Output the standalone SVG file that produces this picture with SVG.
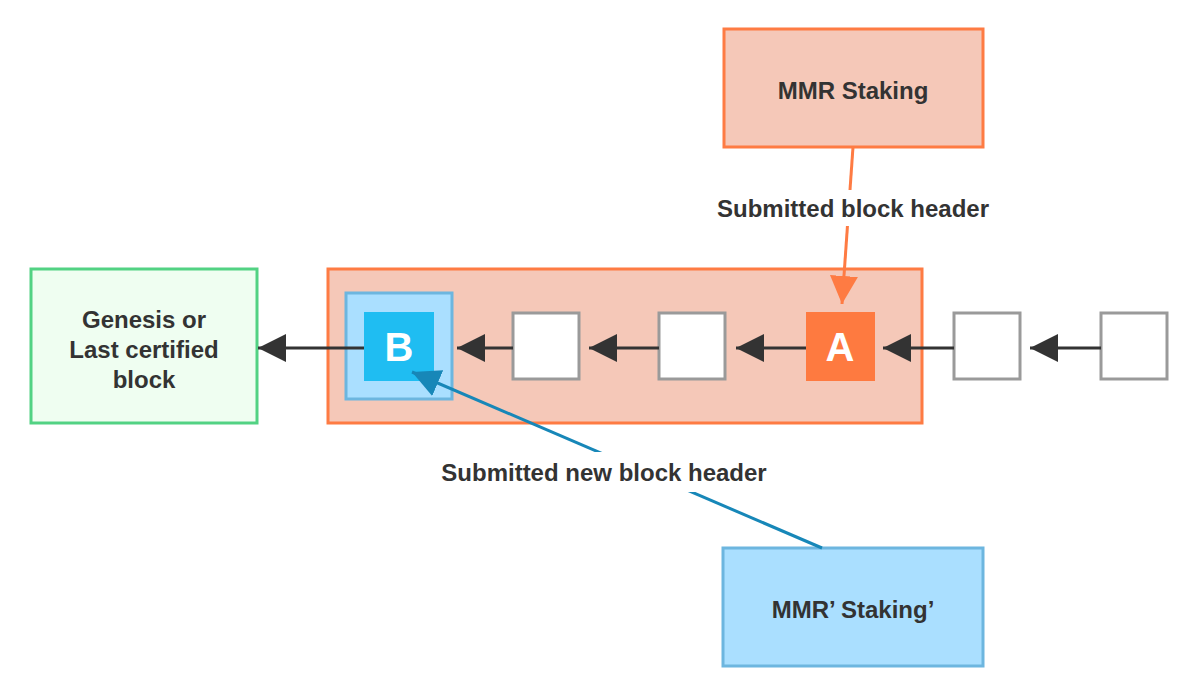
<svg xmlns="http://www.w3.org/2000/svg" width="1200" height="696" viewBox="0 0 1200 696">
<defs>
<style>
.lbl{font-family:"Liberation Sans",Arial,sans-serif;font-weight:bold;font-size:24px;fill:#333;text-anchor:middle;dominant-baseline:central}
.big{font-family:"Liberation Sans",Arial,sans-serif;font-weight:bold;font-size:40px;fill:#fff;text-anchor:middle;dominant-baseline:central}
.blk{fill:#fff;stroke:#9a9a9a;stroke-width:3}
.org{fill:#f5c8b8;stroke:#fe7b43;stroke-width:3}
.blu{fill:#aadfff;stroke:#6db6df;stroke-width:3}
.ln{stroke:#333;stroke-width:3;fill:none}
</style>
<marker id="ah" markerUnits="userSpaceOnUse" markerWidth="28" markerHeight="28" viewBox="0 0 26 26" refX="26" refY="13" orient="auto"><path d="M0,0 L26,13 L0,26 Z" fill="#333"/></marker>
<marker id="ahO" markerUnits="userSpaceOnUse" markerWidth="28" markerHeight="28" viewBox="0 0 26 26" refX="26" refY="13" orient="auto"><path d="M0,0 L26,13 L0,26 Z" fill="#fe7b43"/></marker>
<marker id="ahB" markerUnits="userSpaceOnUse" markerWidth="28" markerHeight="28" viewBox="0 0 26 26" refX="26" refY="13" orient="auto"><path d="M0,0 L26,13 L0,26 Z" fill="#1787b8"/></marker>
</defs>
<rect width="1200" height="696" fill="#fff"/>
<g id="genesis">
<rect x="31" y="269" width="226" height="154" fill="#effef1" stroke="#52d283" stroke-width="3"/>
<text class="lbl" x="144" y="319">Genesis or</text>
<text class="lbl" x="144" y="349">Last certified</text>
<text class="lbl" x="144" y="379">block</text>
</g>
<g id="container">
<rect class="org" x="328" y="269" width="594" height="154"/>
</g>
<g id="blockB">
<rect class="blu" x="346" y="293" width="106" height="106"/>
<rect x="364" y="312" width="70" height="69" fill="#1fbdf2"/>
<text class="big" x="399" y="347">B</text>
</g>
<g id="block1"><rect class="blk" x="513" y="313" width="66" height="66"/></g>
<g id="block2"><rect class="blk" x="659" y="313" width="66" height="66"/></g>
<g id="blockA">
<rect x="806" y="312" width="69" height="69" fill="#fe7a40"/>
<text class="big" x="840" y="347">A</text>
</g>
<g id="block4"><rect class="blk" x="954" y="313" width="66" height="66"/></g>
<g id="block5"><rect class="blk" x="1101" y="313" width="66" height="66"/></g>
<g id="mmr">
<rect class="org" x="724" y="29" width="259" height="118"/>
<text class="lbl" x="853" y="90">MMR Staking</text>
</g>
<g id="mmr2">
<rect class="blu" x="723" y="548" width="260" height="118"/>
<text class="lbl" x="853" y="609">MMR’ Staking’</text>
</g>
<g id="connectors">
<line class="ln" x1="364" y1="348" x2="258" y2="348" marker-end="url(#ah)"/>
<line class="ln" x1="513" y1="348" x2="457" y2="348" marker-end="url(#ah)"/>
<line class="ln" x1="659" y1="348" x2="589" y2="348" marker-end="url(#ah)"/>
<line class="ln" x1="806" y1="348" x2="736" y2="348" marker-end="url(#ah)"/>
<line class="ln" x1="954" y1="348" x2="883" y2="348" marker-end="url(#ah)"/>
<line class="ln" x1="1101" y1="348" x2="1030" y2="348" marker-end="url(#ah)"/>
<line x1="853" y1="147" x2="842" y2="304" stroke="#fe7b43" stroke-width="3" marker-end="url(#ahO)"/>
<rect x="708" y="190" width="292" height="36" fill="#fff"/>
<text class="lbl" x="853" y="208">Submitted block header</text>
<line x1="822" y1="548" x2="412" y2="372" stroke="#1787b8" stroke-width="3" marker-end="url(#ahB)"/>
<rect x="432" y="452" width="344" height="40" fill="#fff"/>
<text class="lbl" x="604" y="472">Submitted new block header</text>
</g>
</svg>
